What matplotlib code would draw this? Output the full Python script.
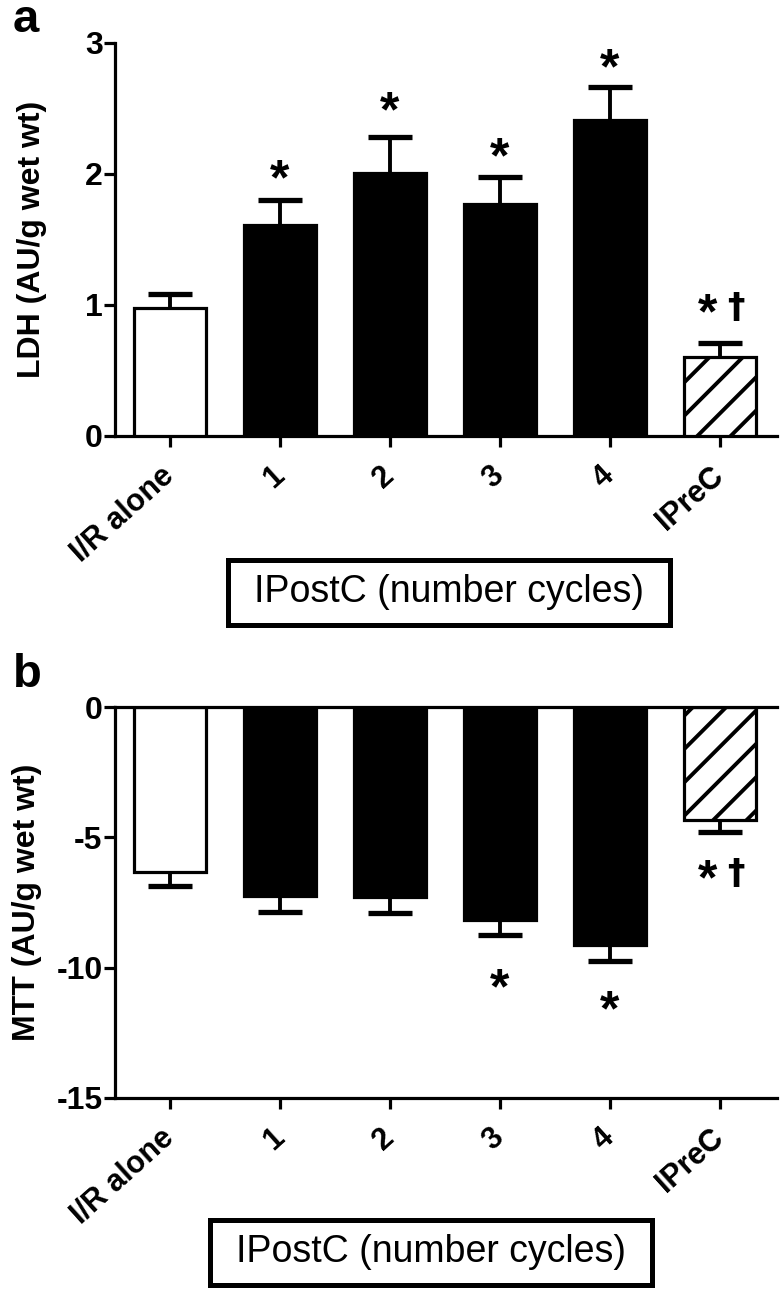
import numpy as np
import matplotlib
matplotlib.use('Agg')
import matplotlib.pyplot as plt
from matplotlib.patches import Rectangle

plt.rcParams['font.family'] = ['Liberation Sans', 'DejaVu Sans']
plt.rcParams['hatch.linewidth'] = 2.8

# groups on the x axis
groups = ['I/R alone', '1', '2', '3', '4', 'IPreC']

# panel a: LDH
ldh_mean = [0.98, 1.61, 2.01, 1.77, 2.41, 0.60]
ldh_sem = [0.10, 0.19, 0.27, 0.21, 0.25, 0.11]
ldh_star_y = [None, 2.12, 2.64, 2.29, 2.97, 1.10]
ldh_dagger = [False, False, False, False, False, True]

# panel b: MTT
mtt_mean = [-6.33, -7.25, -7.29, -8.17, -9.13, -4.33]
mtt_sem = [0.54, 0.61, 0.61, 0.58, 0.61, 0.46]
mtt_star_y = [None, None, None, -10.0, -10.82, -5.79]
mtt_dagger = [False, False, False, False, False, True]

face = ['white', 'black', 'black', 'black', 'black', 'white']
hatches = [None, None, None, None, None, '/']

fig = plt.figure(figsize=(7.82, 12.89), dpi=100)
ax_a = fig.add_axes([0.1471, 0.6618, 0.8465, 0.3049])
ax_b = fig.add_axes([0.1471, 0.1482, 0.8465, 0.3033])

x = np.arange(len(groups))


def draw_panel(ax, mean, sem, up, star_y, dagger):
    zero = np.zeros(len(mean))
    yerr = [zero, sem] if up else [sem, zero]
    bars = ax.bar(x, mean, width=0.66, color=face, edgecolor='black',
                  linewidth=2.3, zorder=3)
    for b, h in zip(bars, hatches):
        if h:
            b.set_hatch(h)
    eb = ax.errorbar(x, mean, yerr=yerr, fmt='none', ecolor='black',
                     elinewidth=2.8, capsize=15.5, capthick=3.8, zorder=2)
    # hide the cap on the side without error
    eb[1][0 if up else 1].set_visible(False)
    for xi, sy, dg in zip(x, star_y, dagger):
        if sy is None:
            continue
        if dg:
            ax.text(xi - 0.11, sy, '*', ha='center', va='top', fontsize=36,
                    fontweight='bold')
            ax.text(xi + 0.15, sy + (0.01 if up else 0.05), '\u2020',
                    ha='center', va='top', fontsize=25, fontweight='bold',
                    family='DejaVu Sans')
        else:
            ax.text(xi, sy, '*', ha='center', va='top', fontsize=36,
                    fontweight='bold')
    ax.set_xlim(-0.5, 5.52)
    ax.set_xticks(x)
    ax.set_xticklabels(groups, rotation=42, ha='right', va='center',
                       rotation_mode='anchor', fontweight='bold', fontsize=22)
    ax.spines['top'].set_visible(False)
    ax.spines['right'].set_visible(False)
    for s in ['left', 'bottom']:
        ax.spines[s].set_linewidth(2.3)
    ax.tick_params(axis='both', length=8, width=2.3, direction='out')
    ax.tick_params(axis='y', pad=1, labelsize=23)
    ax.tick_params(axis='x', pad=18)
    for lab in ax.get_yticklabels():
        lab.set_fontweight('bold')


draw_panel(ax_a, ldh_mean, ldh_sem, True, ldh_star_y, ldh_dagger)
ax_a.set_ylim(0, 3)
ax_a.set_yticks([0, 1, 2, 3])
ax_a.set_yticklabels(['0', '1', '2', '3'], fontweight='bold')
ax_a.set_ylabel('LDH (AU/g wet wt)', fontsize=23, fontweight='bold')
ax_a.yaxis.set_label_coords(-0.103, 0.5)

draw_panel(ax_b, mtt_mean, mtt_sem, False, mtt_star_y, mtt_dagger)
ax_b.set_ylim(-15, 0)
ax_b.set_yticks([0, -5, -10, -15])
ax_b.set_yticklabels(['0', '-5', '-10', '-15'], fontweight='bold')
ax_b.axhline(0, color='black', linewidth=2.3, clip_on=False, zorder=4)
ax_b.set_ylabel('MTT (AU/g wet wt)', fontsize=23, fontweight='bold')
ax_b.yaxis.set_label_coords(-0.11, 0.5)

# panel letters
fig.text(13 / 782, 1 - 32 / 1289, 'a', fontsize=34, fontweight='bold',
         ha='left', va='baseline')
fig.text(13 / 782, 1 - 687 / 1289, 'b', fontsize=34, fontweight='bold',
         ha='left', va='baseline')

# boxed x-axis captions
for cx, cy in [(449 / 782, 1 - 592.5 / 1289), (431 / 782, 1 - 1252.5 / 1289)]:
    w, h = 442 / 782, 65 / 1289
    fig.add_artist(Rectangle((cx - w / 2, cy - h / 2), w, h,
                             transform=fig.transFigure, fill=False,
                             edgecolor='black', linewidth=3.6))
    fig.text(cx, cy, 'IPostC (number cycles)', fontsize=27,
             fontweight='normal', ha='center', va='center')

fig.savefig('out.png', dpi=100)
